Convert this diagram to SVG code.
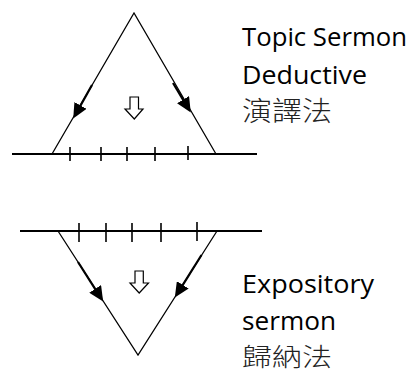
<svg xmlns="http://www.w3.org/2000/svg" width="415" height="374" viewBox="0 0 415 374">
<defs>
<style>
.ln{stroke:#000;stroke-width:1.3;fill:none}
.base{stroke:#000;stroke-width:1.8;fill:none}
.tk{stroke:#000;stroke-width:1.6}
.arr{stroke:#000;stroke-width:2.2;fill:none;marker-end:url(#ah)}
.hol{fill:#fff;stroke:#000;stroke-width:1.2;stroke-linejoin:miter}
.en{font-family:"Open Sans","Liberation Sans",sans-serif;font-size:26px;fill:#000}
.zh{font-family:"Noto Sans CJK TC","Noto Sans CJK SC",sans-serif;font-size:27px;fill:#222;font-weight:300}
.zh2{font-size:25px}
</style>
<marker id="ah" markerUnits="userSpaceOnUse" markerWidth="16" markerHeight="14" refX="0.5" refY="7" orient="auto">
<path d="M0,0 L15,7 L0,14 z" fill="#000"/>
</marker>
</defs>
<g id="deductive">
<line class="base" x1="12" y1="154" x2="257" y2="154"/>
<polyline class="ln" points="52,154 134,13 216,154"/>
<g class="tk">
<line x1="70" y1="147" x2="70" y2="161"/>
<line x1="101" y1="147" x2="101" y2="161"/>
<line x1="127" y1="147" x2="127" y2="161"/>
<line x1="155" y1="147" x2="155" y2="161"/>
<line x1="188" y1="146" x2="188" y2="160"/>
</g>
<path class="hol" d="M130,97 H138.5 V109 H143 L134.3,119 L125,109 H130 Z"/>
</g>
<g id="inductive">
<line class="base" x1="20" y1="231" x2="262" y2="231"/>
<polyline class="ln" points="58,231 138,355 217,231"/>
<g class="tk">
<line x1="79" y1="223" x2="79" y2="242"/>
<line x1="106" y1="223" x2="106" y2="242"/>
<line x1="132" y1="223" x2="132" y2="242"/>
<line x1="161" y1="223" x2="161" y2="242"/>
<line x1="197" y1="222" x2="197" y2="241"/>
</g>
<path class="hol" d="M135,271 H143.3 V283 H148.5 L139.2,293 L130,283 H135 Z"/>
</g>
<g id="connectors">
<line class="arr" x1="92" y1="85" x2="80.3" y2="105.9"/>
<line class="arr" x1="173" y1="83" x2="183.3" y2="100.1"/>
<line class="arr" x1="78" y1="262" x2="95.4" y2="289.3"/>
<line class="arr" x1="201.5" y1="255" x2="182.5" y2="285.3"/>
</g>
<g id="label-top">
<text class="en" x="242" y="46" textLength="165" lengthAdjust="spacingAndGlyphs">Topic Sermon</text>
<text class="en" x="242" y="84" textLength="125" lengthAdjust="spacingAndGlyphs">Deductive</text>
<text class="zh" x="242" y="121" textLength="90" lengthAdjust="spacingAndGlyphs">演譯法</text>
</g>
<g id="label-bottom">
<text class="en" x="242" y="293" textLength="132" lengthAdjust="spacingAndGlyphs">Expository</text>
<text class="en" x="242" y="329.5" textLength="94" lengthAdjust="spacingAndGlyphs">sermon</text>
<text class="zh zh2" x="242" y="366" textLength="90" lengthAdjust="spacingAndGlyphs">歸納法</text>
</g>
</svg>
